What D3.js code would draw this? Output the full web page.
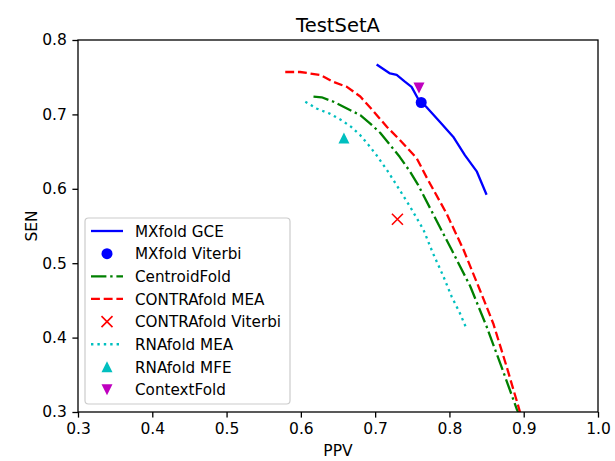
<!DOCTYPE html>
<html><head><meta charset="utf-8">
<script src="https://cdn.jsdelivr.net/npm/d3@7"></script>
<style>body{margin:0;background:#fff}svg{display:block}text{font-family:"DejaVu Sans",sans-serif;fill:#000}</style>
</head><body><svg id="c" width="615" height="461"></svg>
<script>
const xTicks=[0.3,0.4,0.5,0.6,0.7,0.8,0.9,1.0];
const yTicks=[0.3,0.4,0.5,0.6,0.7,0.8];
const gcePPV=[0.702,0.720,0.729,0.740,0.749,0.760,0.769,0.787,0.805,0.821,0.837,0.850];
const gceSEN=[0.767,0.755,0.753,0.744,0.737,0.717,0.710,0.690,0.670,0.645,0.623,0.592];
const centPPV=[0.617,0.628,0.644,0.662,0.680,0.693,0.707,0.720,0.733,0.747,0.758,0.776,0.803,0.828,0.850,0.870,0.891,0.895];
const centSEN=[0.724,0.723,0.717,0.708,0.699,0.688,0.675,0.659,0.643,0.623,0.605,0.570,0.518,0.469,0.415,0.361,0.303,0.295];
const contraPPV=[0.579,0.599,0.626,0.643,0.662,0.680,0.698,0.716,0.733,0.756,0.770,0.796,0.819,0.841,0.859,0.877,0.895,0.899];
const contraSEN=[0.757,0.757,0.753,0.744,0.737,0.724,0.704,0.683,0.666,0.641,0.614,0.567,0.518,0.464,0.419,0.361,0.300,0.293];
const rnaPPV=[0.606,0.621,0.639,0.655,0.668,0.680,0.691,0.702,0.716,0.727,0.747,0.765,0.778,0.792,0.803,0.814,0.823];
const rnaSEN=[0.717,0.708,0.701,0.692,0.683,0.672,0.659,0.645,0.625,0.608,0.576,0.545,0.513,0.482,0.455,0.433,0.412];
const mxViterbi=[0.762,0.716];
const contraViterbi=[0.730,0.559];
const rnaMFE=[0.658,0.668];
const contextFold=[0.759,0.736];
const labels=["MXfold GCE","MXfold Viterbi","CentroidFold","CONTRAfold MEA","CONTRAfold Viterbi","RNAfold MEA","RNAfold MFE","ContextFold"];

const svg=d3.select("#c");
const L=78,R=598,T=40,B=412;
const FS=15.5;
const x=d3.scaleLinear().domain([0.3,1.0]).range([L,R]);
const y=d3.scaleLinear().domain([0.3,0.8]).range([B,T]);
svg.append("defs").append("clipPath").attr("id","clip").append("rect").attr("x",L).attr("y",T).attr("width",R-L).attr("height",B-T);
const plot=svg.append("g").attr("clip-path","url(#clip)");
const line=d3.line().x(d=>x(d[0])).y(d=>y(d[1]));
const LW=2.3;
function series(px,py,color,dash){
  plot.append("path").datum(px.map((v,i)=>[v,py[i]])).attr("d",line).attr("fill","none")
   .attr("stroke",color).attr("stroke-width",LW).attr("stroke-dasharray",dash||null).attr("stroke-linejoin","round");
}
const C={b:"#0000ff",g:"#008000",r:"#ff0000",c:"#00bfbf",m:"#bf00bf"};
const dashes={dash:"8.9,3.8",dashdot:"15.4,3.8,2.4,3.8",dot:"2.4,4"};
series(gcePPV,gceSEN,C.b,null);
series(centPPV,centSEN,C.g,dashes.dashdot);
series(contraPPV,contraSEN,C.r,dashes.dash);
series(rnaPPV,rnaSEN,C.c,dashes.dot);
function marker(g,type,cx,cy,color){
  const s=5.5;
  if(type==="o") g.append("circle").attr("cx",cx).attr("cy",cy).attr("r",s).attr("fill",color);
  else if(type==="x") g.append("path").attr("d",`M${cx-s},${cy-s}L${cx+s},${cy+s}M${cx-s},${cy+s}L${cx+s},${cy-s}`).attr("stroke",color).attr("stroke-width",1.6);
  else if(type==="^") g.append("path").attr("d",`M${cx},${cy-s*1.05}L${cx+s},${cy+s*0.95}L${cx-s},${cy+s*0.95}Z`).attr("fill",color);
  else if(type==="v") g.append("path").attr("d",`M${cx},${cy+s*1.05}L${cx+s},${cy-s*0.95}L${cx-s},${cy-s*0.95}Z`).attr("fill",color);
}
marker(plot,"v",x(contextFold[0]),y(contextFold[1]),C.m);
marker(plot,"o",x(mxViterbi[0]),y(mxViterbi[1]),C.b);
marker(plot,"^",x(rnaMFE[0]),y(rnaMFE[1]),C.c);
marker(plot,"x",x(contraViterbi[0]),y(contraViterbi[1]),C.r);

svg.append("rect").attr("x",L).attr("y",T).attr("width",R-L).attr("height",B-T).attr("fill","none").attr("stroke","#000").attr("stroke-width",1.3);
const xa=svg.append("g").attr("transform",`translate(0,${B})`).call(d3.axisBottom(x).tickValues(xTicks).tickFormat(d3.format(".1f")).tickSize(5.6).tickPadding(5.6));
const ya=svg.append("g").attr("transform",`translate(${L},0)`).call(d3.axisLeft(y).tickValues(yTicks).tickFormat(d3.format(".1f")).tickSize(5.6).tickPadding(5.6));
[xa,ya].forEach(a=>{a.select(".domain").remove();a.selectAll("line").attr("stroke","#000").attr("stroke-width",1.3);a.selectAll("text").attr("font-family","DejaVu Sans").attr("font-size",FS).attr("fill","#000");});
svg.append("text").attr("x",(L+R)/2).attr("y",32).attr("text-anchor","middle").attr("font-size",19.5).text("TestSetA");
svg.append("text").attr("x",(L+R)/2).attr("y",456).attr("text-anchor","middle").attr("font-size",FS).text("PPV");
svg.append("text").attr("transform",`translate(37,${(T+B)/2}) rotate(-90)`).attr("text-anchor","middle").attr("font-size",FS).text("SEN");

const lg=svg.append("g");
lg.append("rect").attr("x",85).attr("y",218).attr("width",205).attr("height",186).attr("rx",3.5).attr("fill","#fff").attr("fill-opacity",0.8).attr("stroke","#cccccc").attr("stroke-width",1.2);
const items=[["line",C.b,null],["o",C.b],["line",C.g,dashes.dashdot],["line",C.r,dashes.dash],["x",C.r],["line",C.c,dashes.dot],["^",C.c],["v",C.m]];
items.forEach((it,i)=>{
  const yy=231+i*22.65;
  if(it[0]==="line") lg.append("line").attr("x1",91).attr("x2",123).attr("y1",yy).attr("y2",yy).attr("stroke",it[1]).attr("stroke-width",LW).attr("stroke-dasharray",it[2]);
  else marker(lg,it[0],107,yy,it[1]);
  lg.append("text").attr("x",135).attr("y",yy+5.6).attr("font-size",15.2).text(labels[i]);
});
</script></body></html>
